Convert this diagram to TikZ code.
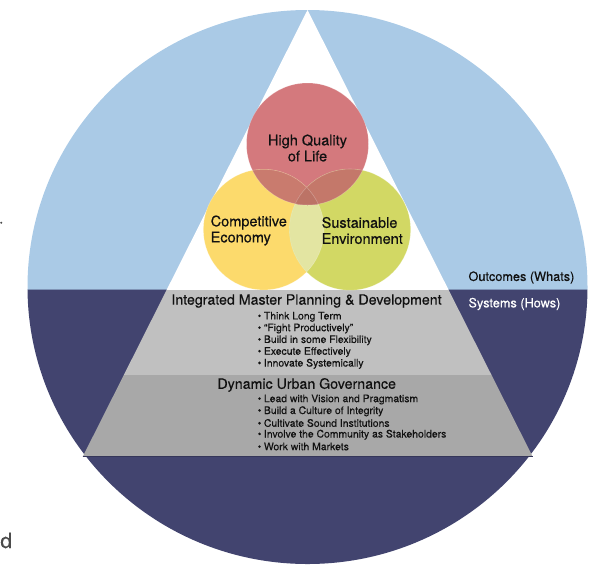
\documentclass[tikz,border=0pt]{standalone}
\usepackage{fontspec}
\setmainfont{TeX Gyre Heros}[FakeBold=0.35]
\definecolor{skyb}{HTML}{AACAE6}
\definecolor{navy}{HTML}{42446F}
\definecolor{lgrey}{HTML}{C0C0C0}
\definecolor{dgrey}{HTML}{A8A8A8}
\definecolor{redc}{HTML}{D4797D}
\definecolor{yelc}{HTML}{FCDA6C}
\definecolor{grnc}{HTML}{D2D864}
\definecolor{ryc}{HTML}{C97B6E}
\definecolor{rgc}{HTML}{C4786A}
\definecolor{ygc}{HTML}{E3E5A2}
\definecolor{txt}{HTML}{111111}
\tikzset{
  venntext/.style={font=\fontsize{14.5}{16}\selectfont, text=txt, align=left, inner sep=0pt},
  headtext/.style={font=\fontsize{14.2}{16}\selectfont, text=txt, inner sep=0pt},
  bullettext/.style={font=\fontsize{10.4}{11}\selectfont, text=txt, inner sep=0pt, anchor=west},
  sidetext/.style={font=\fontsize{12.7}{14}\selectfont, inner sep=0pt, anchor=west},
}
\begin{document}
\begin{tikzpicture}[x=1pt,y=-1pt]
\useasboundingbox (0,0) rectangle (591,566);
\coordinate (C) at (307.5,287);
\coordinate (A) at (307.5,10);
\coordinate (BL) at (82.7,456.7);
\coordinate (BR) at (532.7,456.7);
% outer disc
\begin{scope}
  \clip (C) ellipse [x radius=280, y radius=277];
  \fill[skyb] (0,0) rectangle (591,289.5);
  \fill[navy] (0,289.5) rectangle (591,566);
  \draw[color=skyb!60!navy, line width=0.8] (0,289.5) -- (591,289.5);
\end{scope}
% triangle
\begin{scope}
  \clip (A) -- (BL) -- (BR) -- cycle;
  \fill[white] (0,0) rectangle (591,289.5);
  \fill[lgrey] (0,289.5) rectangle (591,374.7);
  \fill[dgrey] (0,374.7) rectangle (591,456.7);
\end{scope}
\draw[color=navy!80!black, line width=0.8] (BL) -- (BR);
% venn circles
\coordinate (R) at (307.5,144);
\coordinate (Y) at (263.7,229.6);
\coordinate (G) at (350,229.6);
\fill[redc] (R) circle [radius=61];
\fill[yelc] (Y) circle [radius=60.3];
\fill[grnc] (G) circle [radius=60.6];
\begin{scope}
  \clip (Y) circle [radius=60.3];
  \fill[ygc] (G) circle [radius=60.6];
  \fill[ryc] (R) circle [radius=61];
\end{scope}
\begin{scope}
  \clip (G) circle [radius=60.6];
  \fill[rgc] (R) circle [radius=61];
\end{scope}
\begin{scope}
  \clip (G) circle [radius=60.6];
  \clip (Y) circle [radius=60.3];
  \fill[rgc!96!black] (R) circle [radius=61];
\end{scope}
\draw[white, opacity=0.25, line width=0.6] (R) circle [radius=61] (Y) circle [radius=60.3] (G) circle [radius=60.6];
% venn texts
\node[venntext, align=center] (hq) at (307.5,148) {High Quality\\of Life};
\node[venntext, anchor=west] (ce) at (210.5,230.5) {Competitive\\Economy};
\node[venntext, anchor=west] (se) at (321.5,230.5) {Sustainable\\Environment};
% bands
\node[headtext] (imp) at (306.5,301) {Integrated Master Planning \& Development};
\foreach \t [count=\i] in {Think Long Term,“Fight Productively”,Build in some Flexibility,Execute Effectively,Innovate Systemically}
  \node[bullettext] (p\i) at (257.5,{316.8+11.75*(\i-1)}) {•\hspace{2.6pt}\t};
\node[headtext] (dug) at (306.7,385) {Dynamic Urban Governance};
\foreach \t [count=\i] in {Lead with Vision and Pragmatism,Build a Culture of Integrity,Cultivate Sound Institutions,Involve the Community as Stakeholders,Work with Markets}
  \node[bullettext] (g\i) at (257.5,{399.5+11.75*(\i-1)}) {•\hspace{2.6pt}\t};
% side labels
\node[sidetext, text=txt] (out) at (468.3,277.5) {Outcomes (Whats)};
\node[sidetext, text=white] (sys) at (468.3,304) {Systems (Hows)};
% stray marks at left edge
\fill[black!70] (1.2,222.7) circle [radius=1.1];
\node[font=\fontsize{21}{24}\selectfont, text=black!70, inner sep=0pt, anchor=base west] (dd) at (0.2,548) {d};
\end{tikzpicture}
\end{document}
